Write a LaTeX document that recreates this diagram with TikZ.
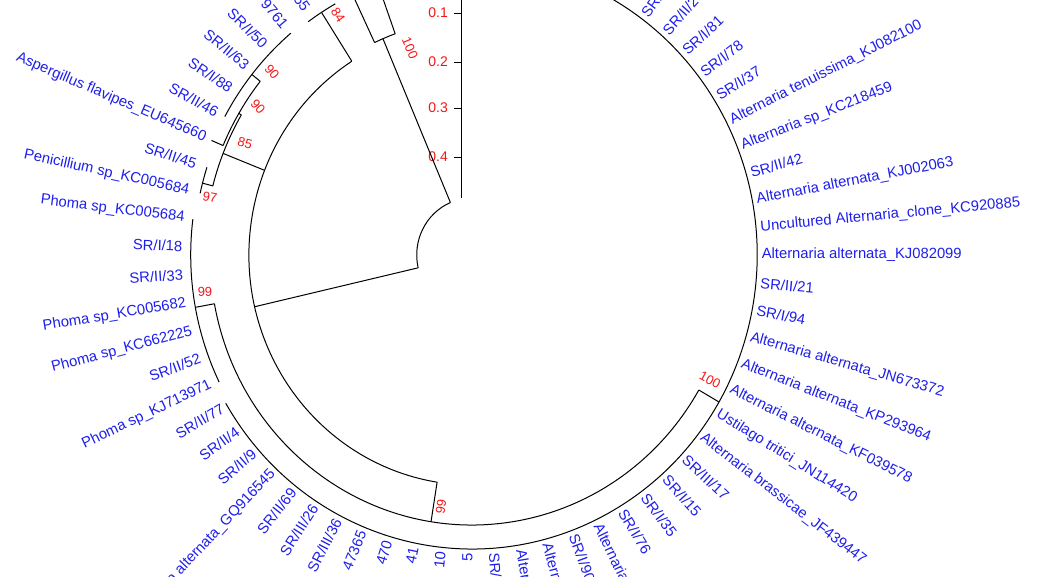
\documentclass[tikz,border=0pt]{standalone}
\usepackage{fontspec}
\setmainfont{Liberation Sans}
\usetikzlibrary{positioning}
\definecolor{leafcolor}{RGB}{30,30,235}
\definecolor{bootcolor}{RGB}{245,20,20}

\begin{document}
\begin{tikzpicture}[x=1pt,y=1pt,
    branch/.style={black,line width=1pt},
    leaf/.style={text=leafcolor,font=\fontsize{14.8}{15}\selectfont,inner sep=1.5pt},
    boot/.style={text=bootcolor,font=\fontsize{13}{14}\selectfont,inner sep=0pt},
    axislab/.style={text=bootcolor,font=\fontsize{14}{15}\selectfont,anchor=east,inner sep=0pt}]

    \useasboundingbox (0,-576) rectangle (1038,0);
    \clip (0,-576) rectangle (1038,0);

    % Distance axis
    \draw[branch] (461,5) -- (461,-198);
    \foreach \t/\y in {0.1/13,0.2/62,0.3/108,0.4/157} {
        \draw[branch] (454,-\y) -- (461,-\y);
        \node[axislab] (ax\y) at (448,-\y) {\t};
    }

    \begin{scope}[shift={(472,-255)},xscale=0.97]
        % Node arcs (start/end angle/radius)
        \foreach \a/\b/\r in {113/193/57, 109.7/115.3/235, 122.6/261/230,
                119.3/125.9/288, 149.5/165.5/276, 141.5/156.9/279,
                130.1/151.5/290, 162.2/167.6/287, 190.4/330/270,
                172.9/206/290, 210.3/449/294}
            \draw[branch] (\a:\r) arc[start angle=\a,end angle=\b,radius=\r];

        % Radial branches (angle/inner/outer)
        \foreach \a/\ri/\ro in {113/57/235, 193/57/230, 109.7/235/300,
                115.3/235/300, 122.6/230/288, 158.4/230/276, 149.5/276/279,
                141.5/279/290, 156.9/279/292, 165.5/276/287, 261/230/270,
                190.4/270/290, 330/270/294}
            \draw[branch] (\a:\ri) -- (\a:\ro);

        % Taxa, right half
        \foreach \a/\txt [count=\i] in {274.4/{SR/I}, 279.8/{Alternaria},
                285.1/{Alternaria}, 290.5/{SR/I/90}, 295.8/{Alternaria},
                301.2/{SR/I/76}, 306.5/{SR/I/35}, 311.9/{SR/I/15},
                317.2/{SR/III/17}, 322.5/{Alternaria brassicae\_JF439447},
                328/{Ustilago tritici\_JN114420},
                333.3/{Alternaria alternata\_KF039578},
                338.6/{Alternaria alternata\_KP293964},
                344/{Alternaria alternata\_JN673372}, 349.3/{SR/I/94},
                354.6/{SR/II/21}, 360/{Alternaria alternata\_KJ082099},
                365.35/{Uncultured Alternaria\_clone\_KC920885},
                370.7/{Alternaria alternata\_KJ002063}, 376/{SR/II/42},
                381.4/{Alternaria sp\_KC218459},
                386.75/{Alternaria tenuissima\_KJ082100}, 392.1/{SR/I/37},
                397.45/{SR/I/78}, 402.8/{SR/I/81}, 408.15/{SR/II/2},
                413.5/{SR/I}}
            \node[leaf,anchor=west,rotate=\a] (right\i) at (\a:297) {\txt};

        % Taxa, left half
        \foreach \a/\txt [count=\i] in {124.8/{55}, 130.1/{9761},
                135.5/{SR/I/50}, 140.8/{SR/II/63}, 146.2/{SR/I/88},
                151.5/{SR/II/46}, 156.9/{Aspergillus flavipes\_EU645660},
                162.2/{SR/II/45}, 167.6/{Penicillium sp\_KC005684},
                172.9/{Phoma sp\_KC005684}, 178.3/{SR/I/18},
                183.8/{SR/II/33}, 189.3/{Phoma sp\_KC005682},
                194.8/{Phoma sp\_KC662225}, 200.2/{SR/II/52},
                205.6/{Phoma sp\_KJ713971}, 210.7/{SR/II/77}, 216/{SR/II/4},
                221.2/{SR/II/9}, 226.6/{Alternaria alternata\_GQ916545},
                231.9/{SR/II/69}, 237.1/{SR/III/26}, 242.4/{SR/III/36},
                247.7/{47365}, 253.1/{470}, 258.4/{41}, 263.8/{10}, 269.1/{5}}
            \node[leaf,anchor=east,rotate=\a-180] (left\i) at (\a:297) {\txt};
    \end{scope}

    % Bootstrap values
    \node[boot,rotate=-67] (bs100a) at (410,-48) {100};
    \node[boot,rotate=-57] (bs84) at (338,-15) {84};
    \node[boot,rotate=-50] (bs90a) at (272,-72) {90};
    \node[boot,rotate=-48] (bs90b) at (258,-107) {90};
    \node[boot,rotate=-15] (bs85) at (245,-143) {85};
    \node[boot,rotate=-10] (bs97) at (210,-197) {97};
    \node[boot,rotate=3] (bs99a) at (205,-292) {99};
    \node[boot,rotate=81] (bs99b) at (441,-507) {99};
    \node[boot,rotate=-28] (bs100b) at (710,-380) {100};
\end{tikzpicture}
\end{document}
